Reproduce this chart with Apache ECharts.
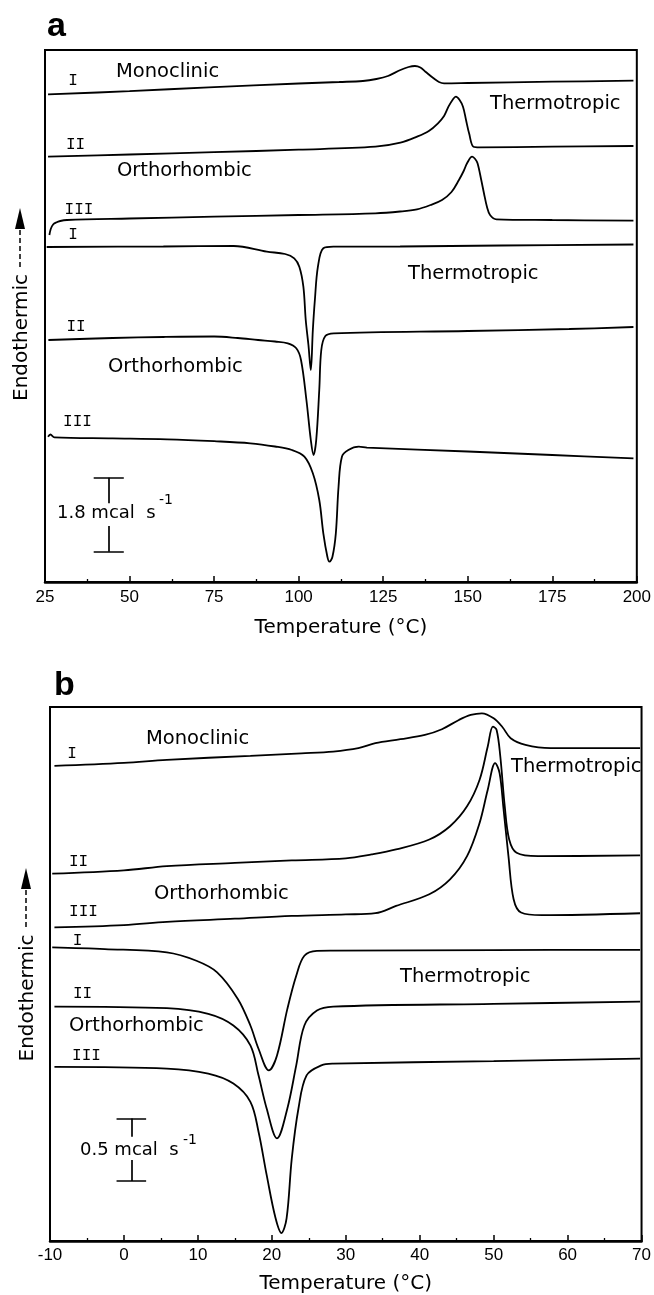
<!DOCTYPE html>
<html>
<head>
<meta charset="utf-8">
<script src="https://cdn.jsdelivr.net/npm/echarts@6.0.0/dist/echarts.min.js"></script>
<style>html,body{margin:0;padding:0;background:#fff}#chart{width:654px;height:1295px}</style>
</head>
<body>
<div id="chart"></div>
<script>
// ---------- DATA (temperature °C, heat-flow signal in arbitrary offset units) ----------
const ticksA = [25, 50, 75, 100, 125, 150, 175, 200];
const ticksB = [-10, 0, 10, 20, 30, 40, 50, 60, 70];
const yRangeA = [0, 532];
const yRangeB = [0, 536];

// Panel a, heating runs (endotherms up)
const aHeatI = [[25.9,487.7],[50,490.8],[73.4,494.7],[100,498.5],[112,500],[119,501],[123,503],[126.4,506],[130.1,512],[132.5,515],[134.4,516],[136,514.5],[137.5,510.3],[139.9,503.7],[141.5,500],[143,498.7],[150,499],[175,500.3],[199,501.3]];
const aHeatII = [[25.9,425.3],[50,427.5],[75,429.8],[100,432.3],[122.7,435.3],[130.1,439.3],[135,445.3],[138.5,451],[141.2,458.7],[143,466],[144.3,475.3],[145.5,482],[146.5,485.3],[147.6,482],[148.6,475.3],[149.5,462],[150.4,448.7],[151.7,435.3],[153.5,434.7],[175,435.3],[199,436]];
const aHeatIII = [[26.3,347],[26.7,353],[27.4,357.5],[28.3,359.5],[29.5,361],[31.5,362],[50,363.5],[75,365.3],[100,367],[122.7,368.7],[130,370.5],[135,372.7],[139,377],[142.4,382],[145.2,390],[147.4,402],[148.8,411],[149.8,418.7],[151.3,425.3],[152.2,423],[152.9,418.7],[154,402],[154.8,388.7],[155.7,375],[156.6,367],[158.5,362.7],[175,362],[199,361.3]];
// Panel a, cooling runs (exotherms down)
const aCoolI = [[25.5,335],[60,335.5],[80.8,336],[90.6,330.3],[96,328],[98.7,323.7],[100.2,315.3],[101.4,295.3],[102.1,262],[102.9,237],[103.6,212],[104.2,252],[104.8,282],[105.7,315.3],[107.3,333.7],[110.4,335.3],[130,335.5],[160,336.5],[199,337.5]];
const aCoolII = [[26,242],[45,244],[60,245],[75,245.5],[82,244],[88,242],[93,240.5],[96.8,238.7],[99.3,233.7],[100.7,222],[102.3,182],[103.6,142],[104.4,127],[105.2,142],[106.1,192],[106.7,232],[107.9,246],[110.4,248.7],[150,251],[180,253],[199,255]];
const aCoolIII = [[25.9,145.3],[26.6,147.5],[27.8,144.7],[45,143.7],[61.1,142.7],[75,140.8],[85.7,138.7],[93,135.5],[98,132],[101.7,125.3],[104.2,108.7],[106.1,82],[107.3,48.7],[108.5,25.3],[109.1,20.3],[110,25.3],[111,48.7],[111.8,95.3],[112.8,125.3],[114.7,132],[117.8,135.3],[120.2,134.3],[150,130.5],[175,127],[199,123.7]];

// Panel b, heating runs
const bHeatI = [[-9.4,477],[0,480],[5.8,483],[17.1,487],[24,489.5],[28.3,491.3],[31.7,494.7],[34,499.7],[37.4,503.7],[40.7,508],[43,513.7],[45.3,523],[46.9,528],[48.4,529.7],[50,524.7],[51.2,515.7],[52.3,504.7],[54.3,498],[57.7,494.7],[65,494.7],[69.8,494.7]];
const bHeatII = [[-9.7,368.7],[0,372],[5.8,376.3],[15,379.5],[22.7,382],[30,384],[33.5,388],[36.8,393],[41.3,403],[44.1,416.3],[46.4,436.3],[48.1,463],[49.2,496.3],[49.9,516.3],[50.4,513],[50.9,486.3],[51.5,436.3],[52.1,403],[53.1,389.7],[56,386.3],[69.8,387]];
const bHeatIII = [[-9.4,314.7],[0,317],[5.8,320.3],[15,323.5],[22.7,326.3],[30,327.8],[34,329],[36.8,336.3],[41.3,348],[44.1,363],[46.4,386.3],[48.1,419.7],[49.2,453],[50.2,479.7],[50.8,469.7],[51.3,436.3],[52,386.3],[52.7,343],[53.7,329.7],[56.5,327],[69.8,329]];
// Panel b, cooling runs
const bCoolI = [[-9.7,294.7],[-2.6,293],[5.8,289.7],[9.8,281.3],[12.6,269.7],[15.4,243],[17.1,216.3],[18.2,193],[19.6,171.3],[20.7,186.3],[22.1,233],[23.3,266.3],[24.4,286.3],[26.1,291.3],[28.3,291.5],[50,292],[69.8,292.3]];
const bCoolII = [[-9.4,235.3],[5.8,233.7],[11.4,228],[14.8,216.3],[17.1,196.3],[18.2,166.3],[19.3,133],[20.7,103],[22.1,133],[23.3,176.3],[24.4,216.3],[26.1,231.3],[28.3,235.3],[50,238],[69.8,240.3]];
const bCoolIII = [[-9.4,174.7],[5.8,173],[11.4,168],[14.8,158],[17.1,139.7],[18.2,109.7],[19.3,66.3],[20.5,23],[21.3,8],[22,23],[22.7,83],[23.6,133],[24.7,166.3],[26.7,176.3],[28.3,178],[50,180.5],[69.8,183]];

// Scale bars: [cap left, centre, cap right] in °C ; [bottom, gap bottom, gap top, top] in signal units
const scaleA_T = [39.4, 43.8, 48.3];
const scaleA_Y = [30.3, 56, 78.7, 104.3];
const scaleB_T = [-1, 1, 3];
const scaleB_Y = [60.3, 81.3, 104.7, 123];

// ---------- CHART ----------
const WORD = '"DejaVu Sans", sans-serif';
const MONO = '"Liberation Mono", monospace';
const chart = echarts.init(document.getElementById('chart'), null, {renderer: 'canvas'});

function curve(data, idx) {
  return {
    type: 'line', data: data, xAxisIndex: idx, yAxisIndex: idx,
    showSymbol: false, symbol: 'none', smooth: 0.35,
    lineStyle: {color: '#000', width: 1.8}, silent: true, animation: false
  };
}
function scaleBar(T, Y, idx) {
  const seg = [
    [[T[0], Y[3]], [T[2], Y[3]]],
    [[T[1], Y[3]], [T[1], Y[2]]],
    [[T[1], Y[1]], [T[1], Y[0]]],
    [[T[0], Y[0]], [T[2], Y[0]]]
  ];
  return {
    type: 'lines', coordinateSystem: 'cartesian2d', xAxisIndex: idx, yAxisIndex: idx,
    polyline: false, silent: true, animation: false,
    lineStyle: {color: '#000', width: 1.7, opacity: 1, curveness: 0},
    data: seg.map(c => ({coords: c}))
  };
}
function xAxis(ticks, idx, margin, nameGap) {
  return {
    gridIndex: idx, type: 'value', min: ticks[0], max: ticks[ticks.length - 1],
    interval: ticks[1] - ticks[0],
    axisLine: {show: true, onZero: false, lineStyle: {color: '#000', width: 2.5}},
    axisTick: {show: true, inside: true, length: 6, lineStyle: {color: '#000', width: 1.5}},
    minorTick: {show: true, splitNumber: 2, length: 3, lineStyle: {color: '#000', width: 1.3}},
    splitLine: {show: false}, minorSplitLine: {show: false},
    axisLabel: {color: '#000', fontSize: 17, fontFamily: '"Liberation Sans", sans-serif', margin: margin},
    name: 'Temperature (\u00B0C)', nameLocation: 'middle', nameGap: nameGap,
    nameTextStyle: {color: '#000', fontSize: 20, fontFamily: WORD}
  };
}
function yAxis(range, idx) {
  return {gridIndex: idx, type: 'value', min: range[0], max: range[1], show: false, splitLine: {show: false}};
}

function txt(t, x, y, font, align) {
  return {type: 'text', x: x, y: y, silent: true,
    style: {text: t, font: font, fill: '#000', textAlign: align || 'left', align: align || 'left',
      textVerticalAlign: 'middle', verticalAlign: 'middle'}};
}
const FW = '19.5px ' + WORD;
const FR = '16px ' + MONO;
const labels = [
  // panel a
  txt('I', 73, 81, FR, 'center'), txt('Monoclinic', 116, 72, FW),
  txt('Thermotropic', 490, 104, FW),
  txt('II', 75.5, 144.5, FR, 'center'), txt('Orthorhombic', 117, 171, FW),
  txt('III', 79, 210, FR, 'center'),
  txt('I', 73, 234.5, FR, 'center'), txt('Thermotropic', 408, 274, FW),
  txt('II', 76, 326.5, FR, 'center'), txt('Orthorhombic', 108, 367, FW),
  txt('III', 77.5, 421.5, FR, 'center'),
  txt('1.8 mcal  s', 57, 513.5, '18px ' + WORD), txt('-1', 159, 500, '14px ' + WORD),
  // panel b
  txt('I', 72, 753.5, FR, 'center'), txt('Monoclinic', 146, 739, FW),
  txt('Thermotropic', 511, 767, FW),
  txt('II', 78.5, 861.5, FR, 'center'), txt('Orthorhombic', 154, 894, FW),
  txt('III', 83.5, 911.5, FR, 'center'),
  txt('I', 77.5, 940.5, FR, 'center'), txt('Thermotropic', 400, 977, FW),
  txt('II', 82.5, 993.5, FR, 'center'), txt('Orthorhombic', 69, 1025.5, FW),
  txt('III', 86.5, 1055.5, FR, 'center'),
  txt('0.5 mcal  s', 80, 1150.5, '18px ' + WORD), txt('-1', 183, 1140, '14px ' + WORD),
  // panel letters
  txt('a', 47, 27, 'bold 34px "Liberation Sans", sans-serif'),
  txt('b', 54, 686, 'bold 34px "Liberation Sans", sans-serif')
];
function yLabel(cx, cy, ax, lineTop, lineBot, tip) {
  return [
    {type: 'text', x: cx, y: cy, rotation: Math.PI / 2, silent: true,
      style: {text: 'Endothermic', font: '20px ' + WORD, fill: '#000', textAlign: 'center', align: 'center',
        textVerticalAlign: 'middle', verticalAlign: 'middle'}},
    {type: 'line', silent: true, shape: {x1: ax, y1: lineBot, x2: ax, y2: lineTop},
      style: {stroke: '#000', lineWidth: 1.5, lineDash: [5, 3]}},
    {type: 'polygon', silent: true, shape: {points: [[ax, tip], [ax - 5, lineTop + 1], [ax + 5, lineTop + 1]]},
      style: {fill: '#000'}}
  ];
}

const option = {
  backgroundColor: '#fff',
  animation: false,
  grid: [
    {left: 45, top: 50, width: 594, height: 532, show: true, borderColor: '#000', borderWidth: 2, backgroundColor: 'transparent'},
    {left: 50, top: 707, width: 594, height: 536, show: true, borderColor: '#000', borderWidth: 2, backgroundColor: 'transparent'}
  ],
  xAxis: [xAxis(ticksA, 0, 7, 36), xAxis(ticksB, 1, 6, 33)],
  yAxis: [yAxis(yRangeA, 0), yAxis(yRangeB, 1)],
  series: [
    curve(aHeatI, 0), curve(aHeatII, 0), curve(aHeatIII, 0),
    curve(aCoolI, 0), curve(aCoolII, 0), curve(aCoolIII, 0),
    curve(bHeatI, 1), curve(bHeatII, 1), curve(bHeatIII, 1),
    curve(bCoolI, 1), curve(bCoolII, 1), curve(bCoolIII, 1),
    scaleBar(scaleA_T, scaleA_Y, 0), scaleBar(scaleB_T, scaleB_Y, 1)
  ],
  graphic: labels.concat(yLabel(21.5, 337.5, 20, 228, 267, 208), yLabel(27.5, 998, 26, 888, 927, 868))
};
chart.setOption(option);
</script>
</body>
</html>
